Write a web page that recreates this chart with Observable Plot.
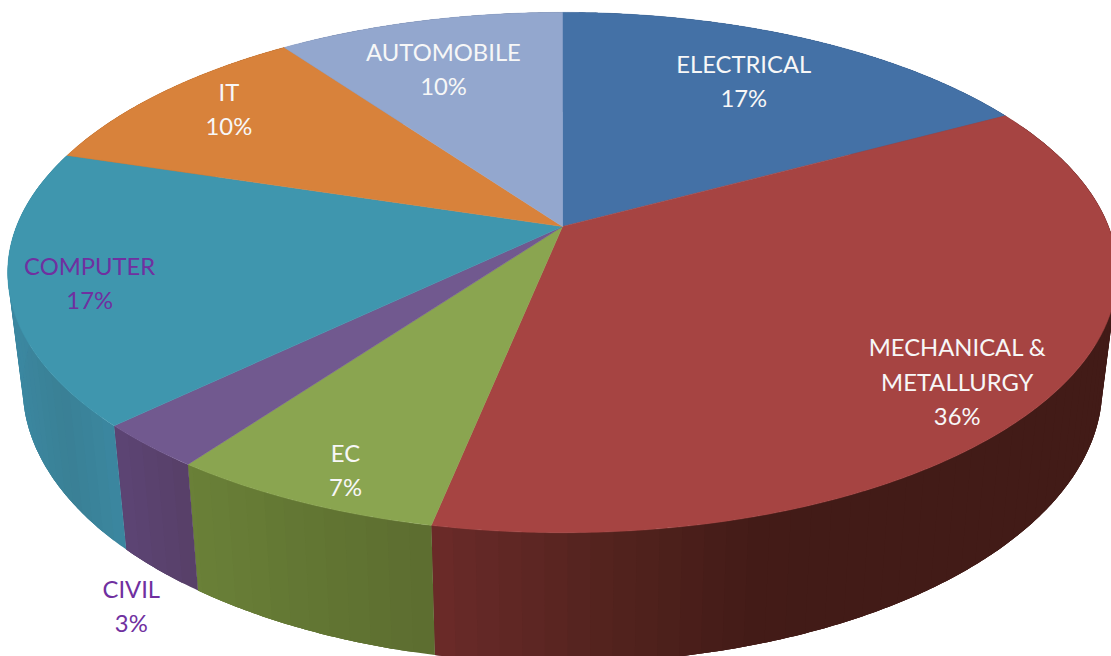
<!DOCTYPE html>
<html>
<head>
<meta charset="utf-8">
<style>html,body{margin:0;padding:0;background:#fff}svg{display:block}</style>
<script src="https://cdn.jsdelivr.net/npm/d3@7"></script>
<script src="https://cdn.jsdelivr.net/npm/@observablehq/plot@0.6"></script>
</head>
<body>
<div id="chart"></div>
<script>
const categories = ["ELECTRICAL","MECHANICAL &\nMETALLURGY","EC","CIVIL","COMPUTER","IT","AUTOMOBILE"];
// shares as read from the slice boundaries; the labels show them rounded
const shares = [17.1,36.08,6.82,2.8,17.0,10.3,9.9];
const topColors = ["#4471a6","#a64442","#8aa550","#71598f","#3f96ae","#d8823b","#93a7ce"];
const sideColors = [
  ["#2f4f75","#2f4f75"],
  ["#421b17","#421b17","#431b17","#55241f","#6b2a29"],
  ["#6a8038","#627633","#5c6d30"],
  ["#5c4474","#574068"],
  ["#3b87a0","#3a8095","#3b87a0"],
  ["#a05f2a","#a05f2a"],
  ["#6e7d9a","#6e7d9a"]
];
const labelColors = ["#f7f7f7","#f7f7f7","#f7f7f7","#7030a0","#7030a0","#f7f7f7","#f7f7f7"];
// where each label sits on the pie plane: bearing (degrees clockwise from top) and radius
const labelBearing = [30,130.6,202.3,207.6,255.1,307,340.6];
const labelRadius = [0.739,0.858,0.894,1.345,0.861,0.833,0.737];

// Perspective view of the disc
const W = 1111, H = 656, cx = 562, cy = 226, A = 546, B = 252, k = 0.177;
const project = (deg, r = 1) => {
  const t = deg * Math.PI / 180, X = r * Math.sin(t), Y = r * Math.cos(t), D = 1 + k * Y;
  return {u: X / D, v: Y / D};
};
const lower = p => ({u: 0.973 * p.u, v: 1.059 * p.v - 112 / B});

const sum = d3.sum(shares);
let acc = 0;
const slices = shares.map((s, i) => {
  const start = acc / sum * 360; acc += s; const end = acc / sum * 360;
  return {i, start, end};
});
const arc = (a, b) => {
  const n = Math.max(2, Math.ceil((b - a) / 0.5));
  return d3.range(n + 1).map(j => a + (b - a) * j / n);
};

const tops = slices.flatMap(({i, start, end}) => {
  const pts = arc(start, end).map(a => project(a));
  return [{u: 0, v: 0}, ...pts, {u: 0, v: 0}].map(p => ({...p, id: i, color: topColors[i]}));
});

// Side wall: each band reaches on to the slice's end, and the next band paints over it,
// so that no seam of white shows between bands.
const sides = slices.flatMap(({i, start, end}) => {
  const us = arc(start, end).map(a => project(a).u);
  const lo = d3.min(us), hi = d3.max(us);
  const shade = d3.scaleLinear()
    .domain(sideColors[i].map((c, j) => i === 1
      ? [1, 0.5, 0.35, 0.05, -0.24][j]
      : lo + (hi - lo) * j / (sideColors[i].length - 1)))
    .range(sideColors[i])
    .clamp(true);
  const angles = d3.range(start, end, 2).concat(end);
  return d3.pairs(angles).flatMap(([a, b], q) => {
    const color = shade((project(a).u + project(b).u) / 2);
    const rim = arc(a, Math.min(end, b + 4)).map(x => project(x));
    return [...rim, ...rim.slice().reverse().map(lower), rim[0]]
      .map(p => ({...p, id: i + "-" + q, color}));
  });
});

const labels = categories.map((name, i) => {
  const p = project(labelBearing[i], labelRadius[i]);
  return {...p, text: name + "\n" + Math.round(shares[i]) + "%", color: labelColors[i]};
});

const chart = Plot.plot({
  width: W, height: H, margin: 0,
  style: {background: "#fff"},
  x: {axis: null, domain: [-cx / A, (W - cx) / A], range: [0, W]},
  y: {axis: null, domain: [(cy - H) / B, cy / B], range: [H, 0]},
  color: {type: "identity"},
  marks: [
    Plot.line(sides, {x: "u", y: "v", z: "id", fill: "color", stroke: "none", curve: "linear"}),
    Plot.line(tops, {x: "u", y: "v", z: "id", fill: "color", stroke: "color", strokeWidth: 0.5, curve: "linear"}),
    Plot.text(labels, {x: "u", y: "v", dy: -3, text: "text", fill: "color", fontSize: 23.8, lineHeight: 1.43,
      fontFamily: "Lato", textAnchor: "middle"})
  ]
});
document.getElementById("chart").appendChild(chart);
</script>
</body>
</html>
